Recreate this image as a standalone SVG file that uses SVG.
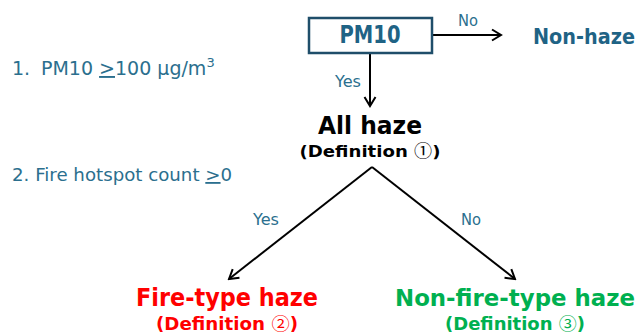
<svg xmlns="http://www.w3.org/2000/svg" width="643" height="335" viewBox="0 0 643 335">
<style>
text{font-family:"DejaVu Sans","Liberation Sans",sans-serif}
.crit{font-size:19px;fill:#2B6F8E}
.crit2{font-size:18.2px;fill:#2B6F8E}
.lbl{font-size:16px;fill:#2B6F8E}
.b{font-weight:bold}
.cj{font-family:"Noto Sans CJK JP","DejaVu Sans",sans-serif;font-weight:normal}
.conn{stroke:#000;stroke-width:2;fill:none}
</style>
<defs>
<marker id="ah" markerUnits="userSpaceOnUse" markerWidth="14" markerHeight="14" viewBox="-12 -7 14 14" refX="0" refY="0" orient="auto">
<path d="M-9,-5.5 L0,0 L-9,5.5" fill="none" stroke="#000" stroke-width="2"/>
</marker>
</defs>
<rect width="643" height="335" fill="#fff"/>
<g id="criteria">
<text class="crit" x="12" y="75">1.<tspan x="41">PM10 </tspan><tspan text-decoration="underline">&gt;</tspan>100 μg/m<tspan font-size="13" dy="-8">3</tspan></text>
<text class="crit2" x="12" y="181">2. Fire hotspot count <tspan text-decoration="underline">&gt;</tspan>0</text>
</g>
<g id="connectors">
<line class="conn" x1="432" y1="35" x2="501" y2="35" marker-end="url(#ah)"/>
<line class="conn" x1="370" y1="53" x2="370" y2="106" marker-end="url(#ah)"/>
<line class="conn" x1="372" y1="167" x2="229" y2="279" marker-end="url(#ah)"/>
<line class="conn" x1="372" y1="167" x2="515" y2="279" marker-end="url(#ah)"/>
<text class="lbl" x="468" y="26" text-anchor="middle" textLength="20" lengthAdjust="spacingAndGlyphs">No</text>
<text class="lbl" x="348" y="87" text-anchor="middle" textLength="26" lengthAdjust="spacingAndGlyphs">Yes</text>
<text class="lbl" x="266" y="225" text-anchor="middle" textLength="26" lengthAdjust="spacingAndGlyphs">Yes</text>
<text class="lbl" x="471" y="225" text-anchor="middle" textLength="20" lengthAdjust="spacingAndGlyphs">No</text>
</g>
<g id="pm10">
<rect x="309" y="18" width="123" height="35" fill="#fff" stroke="#1F4E6A" stroke-width="2.5"/>
<text class="b" x="370" y="43" text-anchor="middle" font-size="24" fill="#1F6385" textLength="61" lengthAdjust="spacingAndGlyphs">PM10</text>
</g>
<g id="non-haze">
<text class="b" x="584" y="44" text-anchor="middle" font-size="21" fill="#1F6385" textLength="102" lengthAdjust="spacingAndGlyphs">Non-haze</text>
</g>
<g id="all-haze">
<text class="b" x="370" y="134" text-anchor="middle" font-size="24" fill="#000" textLength="104" lengthAdjust="spacingAndGlyphs">All haze</text>
<text class="b" x="370" y="157" text-anchor="middle" font-size="16.5" fill="#000" textLength="141" lengthAdjust="spacingAndGlyphs">(Definition <tspan class="cj">①</tspan>)</text>
</g>
<g id="fire-type-haze">
<text class="b" x="227" y="306" text-anchor="middle" font-size="24" fill="#FF0000" textLength="182" lengthAdjust="spacingAndGlyphs">Fire-type haze</text>
<text class="b" x="227" y="330" text-anchor="middle" font-size="17" fill="#FF0000" textLength="142" lengthAdjust="spacingAndGlyphs">(Definition <tspan class="cj">②</tspan>)</text>
</g>
<g id="non-fire-type-haze">
<text class="b" x="515" y="306" text-anchor="middle" font-size="23" fill="#00B050" textLength="240" lengthAdjust="spacingAndGlyphs">Non-fire-type haze</text>
<text class="b" x="515" y="330" text-anchor="middle" font-size="17" fill="#00B050" textLength="140" lengthAdjust="spacingAndGlyphs">(Definition <tspan class="cj">③</tspan>)</text>
</g>
</svg>
